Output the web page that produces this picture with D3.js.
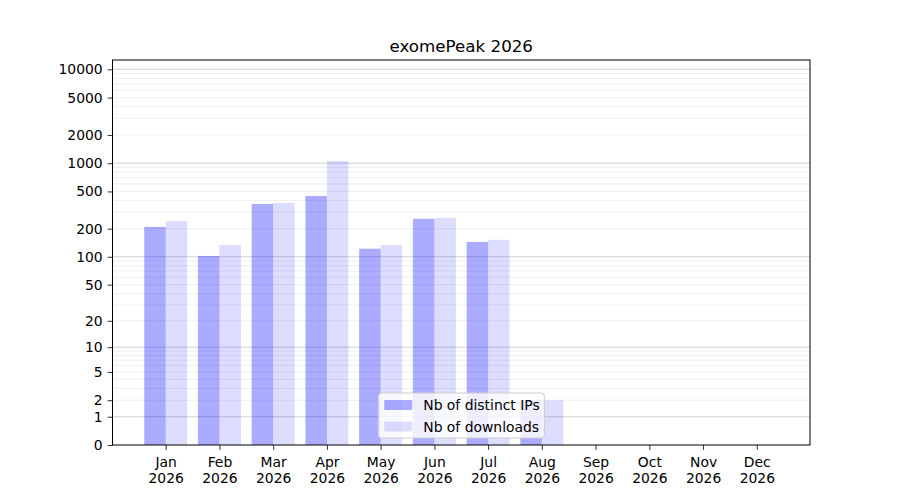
<!DOCTYPE html>
<html>
<head>
<meta charset="utf-8">
<script src="https://cdn.jsdelivr.net/npm/d3@7"></script>
<style>
  body { margin: 0; background: #fff; }
  svg { font-family: "DejaVu Sans", sans-serif; }
</style>
</head>
<body>
<div id="chart"></div>
<script>
const months = ['Jan', 'Feb', 'Mar', 'Apr', 'May', 'Jun', 'Jul', 'Aug', 'Sep', 'Oct', 'Nov', 'Dec'];
const year = '2026';
const distinctIPs = [209, 102, 368, 448, 122, 255, 144, 2, 0, 0, 0, 0];
const downloads = [242, 134, 377, 1058, 134, 261, 152, 2, 0, 0, 0, 0];
const yTicks = [0, 1, 2, 5, 10, 20, 50, 100, 200, 500, 1000, 2000, 5000, 10000];
const majorGrid = [1, 10, 100, 1000, 10000];
const minorGrid = [];
[1, 10, 100, 1000].forEach(d => { for (let k = 2; k <= 9; k++) minorGrid.push(d * k); });

const width = 900, height = 500;
const margin = { top: 60, right: 90, bottom: 55, left: 112.5 };
const svg = d3.select('#chart').append('svg').attr('width', width).attr('height', height);

const x = d3.scaleLinear().domain([-0.99, 11.99]).range([margin.left, width - margin.right]);
const y = d3.scaleSymlog().constant(1).domain([0, 12570]).range([height - margin.bottom, margin.top]);
const barW = x(0.4) - x(0);

// grid
svg.append('g').selectAll('line').data(minorGrid).enter().append('line')
  .attr('x1', margin.left).attr('x2', width - margin.right)
  .attr('y1', d => y(d)).attr('y2', d => y(d))
  .attr('stroke', '#ebebeb').attr('stroke-width', 0.8);
svg.append('g').selectAll('line').data(majorGrid).enter().append('line')
  .attr('x1', margin.left).attr('x2', width - margin.right)
  .attr('y1', d => y(d)).attr('y2', d => y(d))
  .attr('stroke', '#c6c6c6').attr('stroke-width', 0.8);

// bars
svg.append('g').selectAll('rect').data(distinctIPs).enter().append('rect')
  .attr('x', (d, i) => x(i) - barW).attr('width', barW)
  .attr('y', d => y(d)).attr('height', d => y(0) - y(d))
  .attr('fill', '#0000ff').attr('fill-opacity', 0.33);
svg.append('g').selectAll('rect').data(downloads).enter().append('rect')
  .attr('x', (d, i) => x(i)).attr('width', barW)
  .attr('y', d => y(d)).attr('height', d => y(0) - y(d))
  .attr('fill', '#0000ff').attr('fill-opacity', 0.135);

// axes
const yAxis = svg.append('g').attr('transform', `translate(${margin.left},0)`)
  .call(d3.axisLeft(y).tickValues(yTicks).tickFormat(d3.format('d')).tickSize(4.9).tickPadding(4.9));
const xAxis = svg.append('g').attr('transform', `translate(0,${height - margin.bottom})`)
  .call(d3.axisBottom(x).tickValues(d3.range(12)).tickFormat('').tickSize(4.9));
[yAxis, xAxis].forEach(a => {
  a.select('.domain').remove();
  a.selectAll('.tick line').attr('stroke', '#000').attr('stroke-width', 0.8);
  a.selectAll('text').attr('fill', '#000').attr('font-size', 13.9).attr('font-family', '"DejaVu Sans", sans-serif');
});

xAxis.selectAll('.tick').each(function (d) {
  const t = d3.select(this).append('text').attr('fill', '#000').attr('font-size', 13.9)
    .attr('text-anchor', 'middle').attr('font-family', '"DejaVu Sans", sans-serif');
  t.append('tspan').attr('x', 0).attr('y', 21.5).text(months[d]);
  t.append('tspan').attr('x', 0).attr('y', 37.5).text(year);
});

// frame
svg.append('rect')
  .attr('x', margin.left).attr('y', margin.top)
  .attr('width', width - margin.left - margin.right)
  .attr('height', height - margin.top - margin.bottom)
  .attr('fill', 'none').attr('stroke', '#000').attr('stroke-width', 1);

// title
svg.append('text').attr('x', (margin.left + width - margin.right) / 2).attr('y', 52)
  .attr('text-anchor', 'middle').attr('font-size', 16.7).attr('fill', '#000').text('exomePeak 2026');

// legend
const legendItems = [
  { label: 'Nb of distinct IPs', opacity: 0.33 },
  { label: 'Nb of downloads', opacity: 0.135 },
];
const lg = svg.append('g');
const lgW = 166, lgH = 45;
const lgX = (margin.left + width - margin.right) / 2 - lgW / 2;
const lgY = height - margin.bottom - 7 - lgH;
lg.append('rect').attr('x', lgX).attr('y', lgY).attr('width', lgW).attr('height', lgH)
  .attr('rx', 3).attr('fill', '#fff').attr('fill-opacity', 0.8).attr('stroke', '#cccccc').attr('stroke-width', 1);
legendItems.forEach((item, i) => {
  const cy = lgY + 12 + i * 21.5;
  lg.append('rect').attr('x', lgX + 6).attr('y', cy - 5).attr('width', 28).attr('height', 10)
    .attr('fill', '#0000ff').attr('fill-opacity', item.opacity);
  lg.append('text').attr('x', lgX + 45).attr('y', cy).attr('dy', '0.36em')
    .attr('font-size', 13.9).attr('fill', '#000').text(item.label);
});
</script>
</body>
</html>
